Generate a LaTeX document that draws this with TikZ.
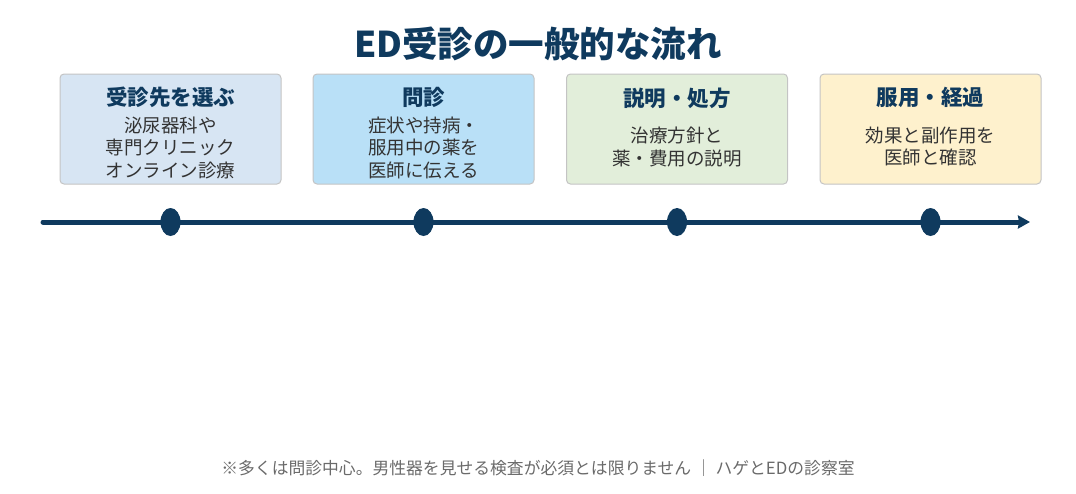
\documentclass[tikz,border=0pt]{standalone}
\usepackage{fontspec}
\setmainfont{Noto Sans CJK JP}
\usepackage{xcolor}
\usetikzlibrary{arrows.meta,shapes.geometric}

\definecolor{navy}{HTML}{0F3A5E}
\definecolor{boxline}{HTML}{C4C4C4}
\definecolor{bodytext}{HTML}{333333}
\definecolor{notetext}{HTML}{6A6A6A}
\definecolor{fillA}{HTML}{D7E5F3}
\definecolor{fillB}{HTML}{B9E0F7}
\definecolor{fillC}{HTML}{E2EEDA}
\definecolor{fillD}{HTML}{FEF1CD}

\tikzset{
  stepbox/.style={draw=boxline, line width=1pt, rounded corners=4pt,
    minimum width=221pt, minimum height=110pt, inner sep=0pt},
  head/.style={font=\fontsize{21.5}{25}\selectfont\bfseries, text=navy},
  body/.style={font=\fontsize{18.5}{22.5}\selectfont, text=bodytext, align=center},
  dot/.style={ellipse, fill=navy, minimum width=20pt, minimum height=28pt, inner sep=0pt}
}

\begin{document}
\begin{tikzpicture}[x=1pt, y=-1pt]
    \useasboundingbox (0,0) rectangle (1076,493);

    % Title
    \node[font=\fontsize{35.5}{40}\selectfont\bfseries, text=navy] (title) at (538,44) {ED受診の一般的な流れ};

    % Step 1
    \node[stepbox, fill=fillA] (box1) at (170.5,129) {};
    \node[head] (head1) at (170.5,97) {受診先を選ぶ};
    \node[body] (body1) at (170.5,147.5) {泌尿器科や\\専門クリニック\\オンライン診療};

    % Step 2
    \node[stepbox, fill=fillB] (box2) at (423.5,129) {};
    \node[head] (head2) at (423.5,97) {問診};
    \node[body] (body2) at (423.5,147.5) {症状や持病・\\服用中の薬を\\医師に伝える};

    % Step 3
    \node[stepbox, fill=fillC] (box3) at (677,129) {};
    \node[head] (head3) at (677,98) {説明・処方};
    \node[body] (body3) at (677,147) {治療方針と\\薬・費用の説明};

    % Step 4
    \node[stepbox, fill=fillD] (box4) at (930.5,129) {};
    \node[head] (head4) at (930.5,97) {服用・経過};
    \node[body] (body4) at (930.5,146.5) {効果と副作用を\\医師と確認};

    % Timeline
    \coordinate (tstart) at (43,222);
    \coordinate (tend) at (1030,222);
    \draw[navy, line width=5pt, line cap=round, -{Stealth[length=12pt, width=13pt, inset=1pt]}] (tstart) -- (tend);

    % Dots
    \node[dot] (dot1) at (170.5,222) {};
    \node[dot] (dot2) at (423.5,222) {};
    \node[dot] (dot3) at (677,222) {};
    \node[dot] (dot4) at (930.5,222) {};

    % Note
    \node[font=\fontsize{16.8}{20}\selectfont, text=notetext] (note) at (538,468) {※多くは問診中心。男性器を見せる検査が必須とは限りません ｜ ハゲとEDの診察室};
\end{tikzpicture}
\end{document}
